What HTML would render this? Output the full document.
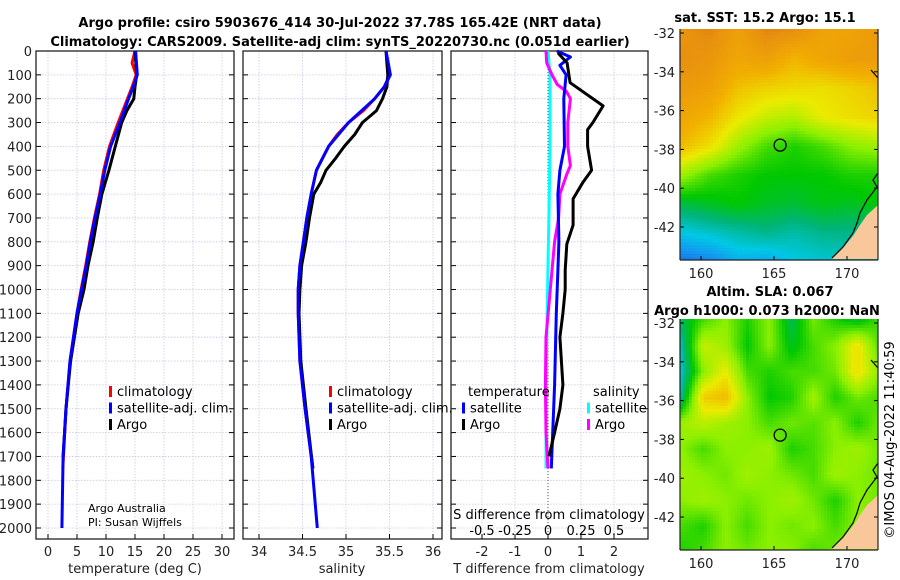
<!DOCTYPE html>
<html><head><meta charset="utf-8"><style>
body{margin:0;background:#fff;}
svg{display:block;font-family:"DejaVu Sans","Liberation Sans",sans-serif;}
</style></head><body>
<svg id="s" width="900" height="580" viewBox="0 0 900 580" xmlns="http://www.w3.org/2000/svg">
<text x="340" y="27" font-size="13" font-weight="bold" text-anchor="middle">Argo profile: csiro 5903676_414 30-Jul-2022 37.78S 165.42E (NRT data)</text>
<text x="340" y="46" font-size="13" font-weight="bold" text-anchor="middle">Climatology: CARS2009. Satellite-adj clim: synTS_20220730.nc (0.051d earlier)</text>
<g id="g"></g>
</svg>
<script>
// ---- profile data ----
const tDepth=[0,100,150,200,250,300,400,500,600,700,800,900,1000,1100,1300,1500,1700];
const tArgo=[15.0,15.3,15.0,14.8,13.6,12.7,11.6,10.5,9.3,8.5,7.8,6.9,6.2,5.2,3.9,3.1,2.6];
const cDepth=[0,50,100,150,200,300,400,500,600,700,800,900,1000,1100,1300,1500,1750];
const tClim=[15.0,14.5,15.2,14.5,13.7,12.1,10.6,9.6,8.9,8.0,7.2,6.5,5.7,5.0,3.8,3.1,2.55];
const sDepth=[0,100,150,200,300,400,500,600,700,800,900,1000,1100,1300,1500,1700,2000];
const tSat=[15.1,15.4,14.7,13.9,12.4,10.8,9.8,9.0,8.1,7.3,6.6,5.8,5.0,3.8,3.1,2.6,2.4];
const sArgoD=[0,100,150,200,250,300,350,400,450,500,550,600,700,800,900,1000,1100,1300,1500,1750];
const sArgo=[35.46,35.48,35.47,35.42,35.35,35.19,35.10,34.98,34.88,34.77,34.71,34.63,34.58,34.54,34.49,34.47,34.46,34.48,34.54,34.62];
const sClimD=[0,100,150,200,250,300,350,400,450,500,600,700,800,900,1000,1100,1300,1500,1750];
const sClim=[35.46,35.5,35.44,35.33,35.2,35.03,34.9,34.8,34.73,34.66,34.6,34.55,34.51,34.47,34.45,34.45,34.47,34.53,34.62];
const sSat=[35.46,35.51,35.44,35.33,35.03,34.8,34.66,34.6,34.55,34.51,34.47,34.45,34.45,34.47,34.53,34.6,34.67];
const dTArgoD=[8,50,133,230,300,330,400,500,550,620,730,810,920,1000,1100,1200,1400,1500,1600,1700];
const dTArgo=[0.3,0.58,0.67,1.67,1.36,1.2,1.2,1.32,1.06,0.76,0.76,0.57,0.52,0.52,0.45,0.36,0.45,0.36,0.2,0.03];
const dTSatD=[0,25,60,100,200,400,500,600,800,920,1100,1400,1750];
const dTSat=[0.27,0.68,0.36,0.55,0.48,0.5,0.36,0.3,0.33,0.3,0.25,0.2,0.1];
const dSArgoD=[0,50,100,140,170,200,300,400,480,520,600,700,800,920,1200,1400,1600,1750];
const dSArgo=[-0.015,-0.01,0.03,0.07,0.14,0.17,0.15,0.15,0.17,0.14,0.09,0.08,0.05,0.03,-0.015,-0.02,-0.015,0];
const dSSatD=[0,100,200,400,600,900,1400,1750];
const dSSat=[0,0.015,0.015,0.015,0.01,0,-0.015,-0.015];
const depthTicks=[0,100,200,300,400,500,600,700,800,900,1000,1100,1200,1300,1400,1500,1600,1700,1800,1900,2000];
const tTicks=[0,5,10,15,20,25,30];
const sTicks=[34,34.5,35,35.5,36];
const dtTicks=[-2,-1,0,1,2];
const dsTicks=[-0.5,-0.25,0,0.25,0.5];
const dsTickLabels=["-0.5","-0.25","0","0.25","0.5"];

const NS='http://www.w3.org/2000/svg';
const G=document.getElementById('g');
function el(tag,attrs,parent){const e=document.createElementNS(NS,tag);for(const k in attrs)e.setAttribute(k,attrs[k]);(parent||G).appendChild(e);return e;}
function txt(x,y,s,size,anchor,parent){const t=el('text',{x:x,y:y,'font-size':size,'text-anchor':anchor||'middle'},parent);t.textContent=s;return t;}
const yD=d=>51+d*0.2385;
const xT=t=>48+t*5.8;
const xS=s=>259+(s-34)*87;
const xDT=v=>548+v*33;
const xDS=v=>548+v*132;
const TOP=51,BOT=539;

function panel(name,x0,x1,ticks,xf,labels){
  const g=el('g',{});
  
  
  depthTicks.forEach(d=>{el('line',{x1:x0,x2:x1,y1:yD(d),y2:yD(d),stroke:'#c8c8e8','stroke-width':0.8,'stroke-dasharray':'1.5,1.5'},g);
    el('line',{x1:x0,x2:x0+5,y1:yD(d),y2:yD(d),stroke:'#000'},g);el('line',{x1:x1-5,x2:x1,y1:yD(d),y2:yD(d),stroke:'#000'},g);});
  ticks.forEach((t,i)=>{const x=xf(t);el('line',{x1:x,x2:x,y1:TOP,y2:BOT,stroke:'#c8c8e8','stroke-width':0.8,'stroke-dasharray':'1.5,1.5'},g);
    el('line',{x1:x,x2:x,y1:BOT,y2:BOT-5,stroke:'#000'},g);
    const l=txt(x,556,labels?labels[i]:String(t),13,'middle',g);l.setAttribute('fill','#222');});
  el('rect',{x:x0,y:TOP,width:x1-x0,height:BOT-TOP,fill:'none',stroke:'#222','stroke-width':1.3},g);
  return g;
}
function line(xs,ds,xf,color,name){
  const p=xs.map((v,i)=>(i?'L':'M')+xf(v).toFixed(1)+','+yD(ds[i]).toFixed(1)).join('');
  const e=el('path',{d:p,fill:'none',stroke:color,'stroke-width':3,'stroke-linejoin':'round'});
  
  
}
depthTicks.forEach(d=>{const t=txt(32,yD(d)+5,String(d),13,'end');t.setAttribute('fill','#222');});
panel('temperature-panel',36,234,tTicks,xT);
panel('salinity-panel',243,442,sTicks,xS);
panel('difference-panel',451,648,dtTicks,xDT);
el('line',{x1:548,x2:548,y1:TOP,y2:BOT,stroke:'#555','stroke-dasharray':'1,2'});
line(tClim,cDepth,xT,'#f00','temp-climatology-line');
line(tArgo,tDepth,xT,'#000','temp-argo-line');
line(tSat,sDepth,xT,'#00f','temp-satellite-line');
line(sClim,sClimD,xS,'#f00','sal-climatology-line');
line(sArgo,sArgoD,xS,'#000','sal-argo-line');
line(sSat,sDepth,xS,'#00f','sal-satellite-line');
line(dSSat,dSSatD,xDS,'#0ff','sdiff-satellite-line');
line(dSArgo,dSArgoD,xDS,'#f0f','sdiff-argo-line');
line(dTSat,dTSatD,xDT,'#00f','tdiff-satellite-line');
line(dTArgo,dTArgoD,xDT,'#000','tdiff-argo-line');
dsTicks.forEach((v,i)=>{el('line',{x1:xDS(v),x2:xDS(v),y1:BOT,y2:BOT-5,stroke:'#000'});txt(xDS(v),535,dsTickLabels[i],13,'middle');});
txt(549,519,'S difference from climatology',13,'middle');
txt(135,573,'temperature (deg C)',13,'middle').setAttribute('fill','#222');
txt(342,573,'salinity',13,'middle').setAttribute('fill','#222');
txt(549,573,'T difference from climatology',13,'middle').setAttribute('fill','#222');
txt(88,512,'Argo Australia',11,'start');
txt(88,526,'PI: Susan Wijffels',11,'start');
function legend(x,y,items,name){
  const g=el('g',{});
  
  
  items.forEach((it,i)=>{const yy=y+i*16.5;
    if(it[1])el('rect',{x:x,y:yy-10,width:3,height:11,fill:it[1]},g);
    txt(x+(it[1]?8:6),yy,it[0],13,'start',g);});
}
legend(109,396,[['climatology','#f00'],['satellite-adj. clim.','#00f'],['Argo','#000']],'temp-legend');
legend(329,396,[['climatology','#f00'],['satellite-adj. clim.','#00f'],['Argo','#000']],'sal-legend');
legend(462,396,[['temperature',null],['satellite','#00f'],['Argo','#000']],'tdiff-legend');
legend(587,396,[['salinity',null],['satellite','#0ff'],['Argo','#f0f']],'sdiff-legend');

// ---- maps ----
const sstGrid=[
[.89,.92,.85,.92,.90,.84,.84,.87],
[.90,.88,.83,.85,.79,.83,.86,.86],
[.87,.85,.77,.74,.73,.72,.74,.77],
[.83,.79,.71,.66,.64,.70,.72,.74],
[.78,.72,.62,.55,.52,.55,.60,.62],
[.62,.55,.52,.50,.50,.50,.52,.52],
[.46,.48,.50,.48,.47,.49,.48,.50],
[.36,.38,.40,.42,.40,.42,.42,.42],
[.26,.28,.33,.32,.36,.37,.38,.38]];
const slaGrid=[
[.45,.55,.6,.52,.6,.45,.58,.52,.48,.55],
[.4,.66,.62,.5,.6,.48,.55,.6,.72,.55],
[.38,.6,.7,.55,.52,.55,.55,.58,.72,.6],
[.42,.75,.78,.6,.5,.52,.62,.52,.58,.55],
[.62,.65,.62,.6,.55,.58,.56,.6,.52,.58],
[.6,.55,.6,.6,.62,.52,.55,.6,.62,.58],
[.62,.6,.58,.62,.6,.58,.55,.62,.6,.58],
[.6,.62,.6,.58,.6,.62,.58,.52,.6,.58],
[.55,.52,.6,.55,.6,.58,.6,.55,.6,.58],
[.52,.55,.6,.58,.6,.6,.55,.58,.6,.6]];
const latTicks=[-32,-34,-36,-38,-40,-42];
const lonTicks=[160,165,170];
const stops=[[0.2,[20,60,220]],[0.3,[20,150,240]],[0.36,[0,200,230]],[0.43,[0,180,120]],[0.5,[0,200,0]],[0.6,[140,240,0]],[0.7,[235,235,0]],[0.8,[242,175,0]],[0.9,[232,145,15]],[1,[200,95,10]]];
function cmap(v){for(let i=1;i<stops.length;i++){if(v<=stops[i][0]){const a=stops[i-1],b=stops[i];const f=Math.max(0,(v-a[0])/(b[0]-a[0]));return 'rgb('+a[1].map((c,k)=>Math.round(c+(b[1][k]-c)*f)).join(',')+')';}}return 'rgb(200,95,10)';}
function interp(grid,u,v){const R=grid.length-1,C=grid[0].length-1;const y=v*R,x=u*C;const i=Math.min(R-1,Math.floor(y)),j=Math.min(C-1,Math.floor(x));const fy=y-i,fx=x-j;
  return grid[i][j]*(1-fx)*(1-fy)+grid[i][j+1]*fx*(1-fy)+grid[i+1][j]*(1-fx)*fy+grid[i+1][j+1]*fx*fy;}
function map(name,y0,grid,cell){
  const X0=680,X1=878,Y1=y0+231;
  const g=el('g',{});
  
  
  for(let y=y0;y<Y1;y+=cell)for(let x=X0;x<X1;x+=cell){
    const val=interp(grid,(x-X0)/(X1-X0),(y-y0)/(Y1-y0));
    el('rect',{x:x,y:y,width:cell+0.4,height:cell+0.4,fill:cmap(val)},g);}
  const off=y0-29;
  el('polygon',{points:[[878,205],[867,215],[860,225],[853,236],[843,248],[832,259],[878,259]].map(p=>p[0]+','+(p[1]+off)).join(' '),fill:'#f8c89a'},g);
  el('polyline',{points:[[878,173],[873,180],[877,187],[867,200],[860,213],[857,223],[853,233],[843,247],[832,258]].map(p=>p[0]+','+(p[1]+off)).join(' '),fill:'none',stroke:'#000','stroke-width':1.2},g);
  el('polyline',{points:[[871,70],[878,78]].map(p=>p[0]+','+(p[1]+off)).join(' '),fill:'none',stroke:'#000','stroke-width':1.2},g);
  const ly=lat=>y0+4+(-32-lat)*19.4;
  const lx=lon=>701+(lon-160)*14.6;
  latTicks.forEach(l=>{el('line',{x1:X0,x2:X0+4,y1:ly(l),y2:ly(l),stroke:'#000'},g);el('line',{x1:X1-4,x2:X1,y1:ly(l),y2:ly(l),stroke:'#000'},g);
    txt(675,ly(l)+5,String(l),13,'end',g).setAttribute('fill','#222');});
  lonTicks.forEach(l=>{el('line',{x1:lx(l),x2:lx(l),y1:Y1,y2:Y1-4,stroke:'#000'},g);txt(lx(l),Y1+18,String(l),13,'middle',g).setAttribute('fill','#222');});
  el('line',{x1:X0,x2:X0,y1:y0,y2:Y1,stroke:'#222','stroke-width':1.2},g);
  el('line',{x1:X0,x2:X1,y1:Y1,y2:Y1,stroke:'#222','stroke-width':1.2},g);
  el('line',{x1:X1,x2:X1,y1:y0,y2:Y1,stroke:'#222','stroke-width':1.2},g);
  const c=el('circle',{cx:lx(165.42),cy:ly(-37.78),r:6,fill:'none',stroke:'#000','stroke-width':1.3},g);
  
  
}
map('sst-map',29,sstGrid,3);
map('sla-map',319,slaGrid,3);
txt(765,22,'sat. SST: 15.2 Argo: 15.1',13,'middle').setAttribute('font-weight','bold');
txt(770,296,'Altim. SLA: 0.067',13,'middle').setAttribute('font-weight','bold');
txt(767,315,'Argo h1000: 0.073 h2000: NaN',13,'middle').setAttribute('font-weight','bold');
const imos=txt(0,0,'©IMOS 04-Aug-2022 11:40:59',13,'middle');
imos.setAttribute('transform','translate(894,440) rotate(-90)');


</script>
</body></html>
